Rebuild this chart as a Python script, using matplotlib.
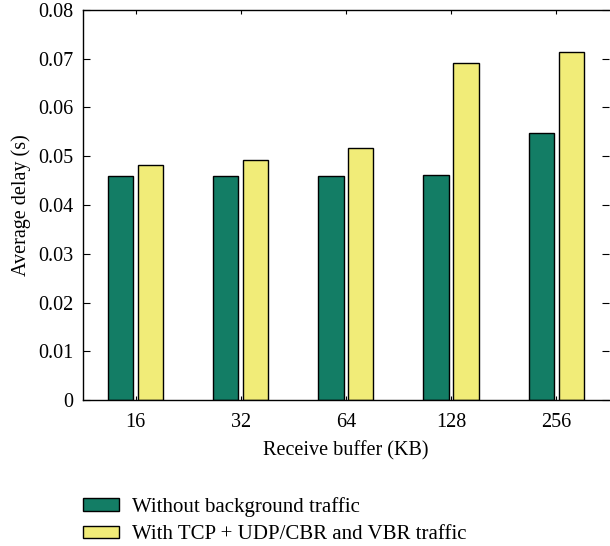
import numpy as np
import matplotlib.pyplot as plt

plt.rcParams['font.family'] = ['Liberation Serif', 'DejaVu Serif']

# receive buffer sizes and average delay (s)
buffers = ['16', '32', '64', '128', '256']
no_bg = [0.0459, 0.0459, 0.0459, 0.0462, 0.0547]
with_bg = [0.0482, 0.0492, 0.0517, 0.0691, 0.0713]
labels = ['Without background traffic', 'With TCP + UDP/CBR and VBR traffic']

GREEN = '#137d65'
YELLOW = '#f1ec78'

fig = plt.figure(figsize=(6.10, 5.46), dpi=100)
ax = fig.add_axes([0.136, 0.267, 0.862, 0.715])

x = np.arange(len(buffers))
w = 0.24
off = 0.142
b1 = ax.bar(x - off, no_bg, w, color=GREEN, edgecolor='black', linewidth=1.0, label=labels[0])
b2 = ax.bar(x + off, with_bg, w, color=YELLOW, edgecolor='black', linewidth=1.0, label=labels[1])

ax.set_xlim(-0.5, len(buffers) - 0.5)
ax.set_ylim(0, 0.08)
ax.set_yticks(np.arange(0, 0.081, 0.01))
ax.set_yticklabels(['0'] + ['%.2f' % v for v in np.arange(0.01, 0.081, 0.01)])
ax.set_xticks(x)
ax.set_xticklabels(buffers)
ax.tick_params(axis='y', direction='in', length=5, right=True, labelsize=14.5, pad=7)
ax.tick_params(axis='x', direction='in', length=3, top=True, labelsize=14.5, pad=9)
ax.spines['right'].set_visible(False)
for s in ['left', 'top', 'bottom']:
    ax.spines[s].set_linewidth(1.0)

ax.set_xlabel('Receive buffer (KB)', fontsize=14.5, labelpad=7)
ax.set_ylabel('Average delay (s)', fontsize=14.5, labelpad=5)

fig.legend(handles=[b1, b2], loc='lower left', bbox_to_anchor=(0.123, -0.012),
           frameon=False, fontsize=15, handlelength=1.7, handleheight=0.55,
           handletextpad=0.65, labelspacing=0.4, borderaxespad=0.0)

fig.savefig('out.png', dpi=100)
